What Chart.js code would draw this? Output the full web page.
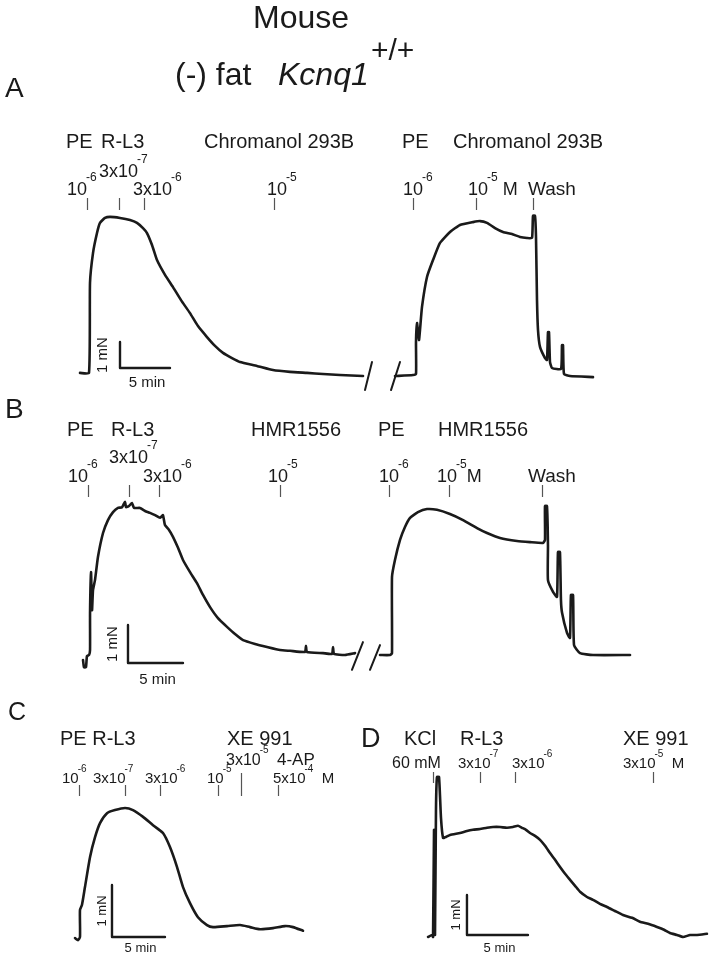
<!DOCTYPE html>
<html>
<head>
<meta charset="utf-8">
<script src="https://cdn.jsdelivr.net/npm/chart.js@4.4.1/dist/chart.umd.min.js"></script>
<style>
  html, body { margin: 0; background: #fff; }
  #wrap { position: relative; width: 709px; height: 958px; }
</style>
</head>
<body>
<div id="wrap"><canvas id="c" width="709" height="958"></canvas></div>
<script>
// ---- traces: time (min) and tension (mN) ----
// A: PE, R-L3, Chromanol 293B
const tA1 = [0, 0.9, 1.0, 1.3, 1.7, 2.0, 2.5, 3.0, 4.0, 5.0, 5.7, 6.3, 6.7, 7.2, 7.7, 8.5, 9.3, 10.1, 11.0, 11.8, 12.7, 13.5, 14.3, 15.2, 16.0, 17.7, 19.3, 21.0, 22.7, 24.3, 26.0, 28.3];
const vA1 = [0.08, 0.08, 3.54, 4.69, 5.46, 5.85, 6.04, 6.08, 6.04, 5.96, 5.85, 5.65, 5.46, 5.0, 4.42, 3.85, 3.38, 2.88, 2.38, 1.88, 1.46, 1.12, 0.85, 0.65, 0.5, 0.35, 0.19, 0.12, 0.08, 0.04, 0, -0.04];
const tA2 = [31.5, 33.3, 33.6, 33.6, 33.7, 33.9, 34.0, 34.2, 34.7, 35.3, 36.0, 37.0, 38.0, 39.3, 40.0, 40.7, 41.5, 42.3, 43.2, 44.0, 44.7, 45.2, 45.3, 45.5, 45.6, 45.7, 45.8, 46.0, 46.5, 46.7, 46.8, 46.9, 47.0, 47.2, 48.1, 48.2, 48.3, 48.4, 49.0, 51.3];
const vA2 = [-0.04, 0, 0.04, 1.27, 2.0, 1.35, 1.73, 2.62, 3.77, 4.42, 5.08, 5.5, 5.77, 5.88, 5.92, 5.85, 5.65, 5.5, 5.42, 5.31, 5.27, 5.27, 6.12, 6.12, 5.31, 2.88, 1.73, 1.08, 0.65, 0.58, 1.65, 1.65, 0.5, 0.27, 0.23, 1.15, 1.15, 0.04, -0.04, -0.08];

// B: PE, R-L3, HMR1556
const tB1 = [0, 0.09, 0.27, 0.36, 0.55, 0.64, 0.64, 0.73, 0.82, 0.91, 1.09, 1.36, 1.82, 2.27, 2.73, 3.18, 3.55, 3.82, 3.91, 4.18, 4.45, 4.64, 5.18, 5.64, 6.09, 6.55, 7.0, 7.27, 7.45, 7.82, 8.18, 8.64, 9.09, 9.73, 10.36, 10.91, 11.55, 12.27, 13.09, 13.82, 14.55, 15.64, 16.73, 17.91, 18.82, 20.18, 20.27, 20.36, 21.82, 22.64, 22.73, 22.82, 23.82, 24.73];
const vB1 = [-0.13, -0.32, -0.32, -0.03, 0, 0.13, 1.1, 2.18, 1.18, 1.71, 1.97, 2.58, 3.21, 3.55, 3.76, 3.87, 3.89, 4.03, 3.89, 3.92, 4.0, 3.87, 3.87, 3.79, 3.74, 3.68, 3.61, 3.68, 3.42, 3.29, 3.11, 2.82, 2.5, 2.18, 1.89, 1.58, 1.26, 0.97, 0.74, 0.55, 0.39, 0.29, 0.21, 0.13, 0.11, 0.08, 0.24, 0.08, 0.05, 0.03, 0.21, 0.03, 0, 0.05];
const tB2 = [27.0, 27.91, 28.09, 28.09, 28.36, 28.82, 29.27, 29.73, 30.45, 31.27, 32.18, 33.36, 34.55, 35.82, 36.73, 37.91, 39.45, 40.64, 41.82, 42.0, 42.0, 42.18, 42.27, 42.27, 42.73, 43.09, 43.18, 43.36, 43.45, 43.55, 44.0, 44.27, 44.36, 44.55, 44.64, 45.18, 46.36, 49.73];
const vB2 = [0, 0, 0.05, 2.05, 2.5, 3.03, 3.37, 3.61, 3.76, 3.84, 3.82, 3.71, 3.55, 3.34, 3.21, 3.08, 3.0, 2.97, 2.95, 3.03, 3.92, 3.92, 2.89, 1.97, 1.66, 1.53, 2.71, 2.71, 1.45, 1.11, 0.58, 0.45, 1.58, 1.58, 0.26, 0.05, 0, 0];

// C: PE, R-L3, XE 991, 4-AP
const tC = [0, 0.28, 0.47, 0.47, 0.66, 0.94, 1.42, 1.89, 2.36, 3.02, 3.77, 4.72, 5.47, 6.42, 7.36, 8.3, 8.96, 9.62, 10.19, 10.85, 11.6, 12.45, 13.02, 14.34, 15.57, 16.51, 17.45, 18.68, 19.81, 20.57, 21.51];
const vC = [-0.02, -0.06, 0, 0.52, 0.62, 0.96, 1.54, 1.92, 2.19, 2.38, 2.44, 2.48, 2.44, 2.31, 2.15, 2.0, 1.73, 1.35, 0.96, 0.65, 0.38, 0.23, 0.19, 0.21, 0.23, 0.19, 0.15, 0.17, 0.21, 0.19, 0.12];

// D: KCl, R-L3, XE 991
const tD = [-0.16, 0.16, 0.25, 0.33, 0.41, 0.49, 0.57, 0.74, 0.9, 1.07, 1.31, 1.64, 2.46, 3.03, 3.52, 4.1, 4.67, 5.16, 5.74, 6.31, 6.8, 7.21, 7.54, 7.87, 8.2, 8.61, 9.02, 9.43, 9.84, 10.25, 10.66, 11.07, 11.48, 11.89, 12.3, 12.87, 13.36, 13.93, 14.51, 15.16, 15.82, 16.56, 17.21, 17.87, 18.61, 19.18, 19.67, 20.25, 20.74, 21.31, 21.89, 22.7];
const vD = [0, 0.05, 0, 2.68, 0.05, 3.18, 4.0, 4.0, 2.98, 2.48, 2.5, 2.55, 2.6, 2.65, 2.68, 2.7, 2.73, 2.75, 2.75, 2.73, 2.75, 2.78, 2.73, 2.68, 2.6, 2.53, 2.43, 2.28, 2.1, 1.93, 1.75, 1.58, 1.43, 1.28, 1.13, 1.0, 0.93, 0.83, 0.75, 0.65, 0.55, 0.48, 0.38, 0.33, 0.25, 0.18, 0.1, 0.05, 0, 0.05, 0.05, 0.08];

// drug addition times (min), one tick each
const addA = [0.7, 3.9, 6.4, 19.4, 33.3, 39.6, 45.3];
const addB = [0.45, 4.18, 6.91, 17.91, 27.82, 33.27, 41.73];
const addC = [0.38, 4.72, 8.02, 13.49, 15.66, 19.15];
const addD = [0.25, 4.1, 6.97, 18.28];

// ---- layout (pixels) ----
const W = 709, H = 958;
const FONT = '"Liberation Sans", Arial, sans-serif';
const INK = '#1a1a1a';
const panels = {
  A: { x0: 80, pxMin: 10, y0: 375, pxMN: 26, adds: addA, tick: [198, 210], bar: [4.0, 0.27], barFont: 15, minGap: 19, mnGap: 17,
       breaks: [[28.5, -0.58, 29.2, 0.5], [31.1, -0.58, 32.0, 0.5]] },
  B: { x0: 83, pxMin: 11, y0: 655, pxMN: 38, adds: addB, tick: [485, 497], bar: [4.09, -0.21], barFont: 15, minGap: 21, mnGap: 15,
       breaks: [[24.45, -0.39, 25.45, 0.34], [26.09, -0.39, 27.0, 0.26]] },
  C: { x0: 75, pxMin: 10.6, y0: 937, pxMN: 52, adds: addC, tick: [785, 796], longTick: 4, bar: [3.49, 0], barFont: 13, minGap: 15, mnGap: 10,
       breaks: [] },
  D: { x0: 430, pxMin: 12.2, y0: 937, pxMN: 40, adds: addD, tick: [772, 783], bar: [3.03, 0.05], barFont: 13, minGap: 17, mnGap: 11,
       breaks: [] },
};

const notes = [
  // A
  { x: 66, y: 148, s: 20, t: 'PE' }, { x: 101, y: 148, s: 20, t: 'R-L3' },
  { x: 204, y: 148, s: 20, t: 'Chromanol 293B' },
  { x: 99, y: 177, s: 18, t: '3x10', e: '-7' },
  { x: 67, y: 195, s: 18, t: '10', e: '-6' }, { x: 133, y: 195, s: 18, t: '3x10', e: '-6' },
  { x: 267, y: 195, s: 18, t: '10', e: '-5' },
  { x: 402, y: 148, s: 20, t: 'PE' }, { x: 453, y: 148, s: 20, t: 'Chromanol 293B' },
  { x: 403, y: 195, s: 18, t: '10', e: '-6' }, { x: 468, y: 195, s: 18, t: '10', e: '-5', tail: ' M' },
  { x: 528, y: 195, s: 19, t: 'Wash' },
  // B
  { x: 67, y: 436, s: 20, t: 'PE' }, { x: 111, y: 436, s: 20, t: 'R-L3' },
  { x: 251, y: 436, s: 20, t: 'HMR1556' },
  { x: 109, y: 463, s: 18, t: '3x10', e: '-7' },
  { x: 68, y: 482, s: 18, t: '10', e: '-6' }, { x: 143, y: 482, s: 18, t: '3x10', e: '-6' },
  { x: 268, y: 482, s: 18, t: '10', e: '-5' },
  { x: 378, y: 436, s: 20, t: 'PE' }, { x: 438, y: 436, s: 20, t: 'HMR1556' },
  { x: 379, y: 482, s: 18, t: '10', e: '-6' }, { x: 437, y: 482, s: 18, t: '10', e: '-5', tail: 'M' },
  { x: 528, y: 482, s: 19, t: 'Wash' },
  // C
  { x: 60, y: 745, s: 20, t: 'PE R-L3' }, { x: 227, y: 745, s: 20, t: 'XE 991' },
  { x: 226, y: 765, s: 16, t: '3x10', e: '-5' }, { x: 277, y: 765, s: 17, t: '4-AP' },
  { x: 62, y: 783, s: 15, t: '10', e: '-6' }, { x: 93, y: 783, s: 15, t: '3x10', e: '-7' },
  { x: 145, y: 783, s: 15, t: '3x10', e: '-6' }, { x: 207, y: 783, s: 15, t: '10', e: '-5' },
  { x: 273, y: 783, s: 15, t: '5x10', e: '-4', tail: '  M' },
  // D
  { x: 404, y: 745, s: 20, t: 'KCl' }, { x: 460, y: 745, s: 20, t: 'R-L3' },
  { x: 623, y: 745, s: 20, t: 'XE 991' },
  { x: 392, y: 768, s: 16, t: '60 mM' },
  { x: 458, y: 768, s: 15, t: '3x10', e: '-7' }, { x: 512, y: 768, s: 15, t: '3x10', e: '-6' },
  { x: 623, y: 768, s: 15, t: '3x10', e: '-5', tail: '  M' },
  // panel letters
  { x: 5, y: 97, s: 28, t: 'A' }, { x: 5, y: 418, s: 28, t: 'B' },
  { x: 8, y: 720, s: 25, t: 'C' }, { x: 361, y: 747, s: 27, t: 'D' },
];

const zip = (ts, vs) => ts.map((t, i) => ({ x: t, y: vs[i] }));

const scales = {};
for (const p in panels) {
  const g = panels[p];
  scales['x' + p] = { type: 'linear', display: false, min: -g.x0 / g.pxMin, max: (W - g.x0) / g.pxMin };
  scales['y' + p] = { type: 'linear', display: false, min: -(H - g.y0) / g.pxMN, max: g.y0 / g.pxMN };
}

const datasets = [];
function trace(p, ts, vs, width, smooth) {
  datasets.push({
    data: zip(ts, vs), xAxisID: 'x' + p, yAxisID: 'y' + p,
    borderColor: INK, borderWidth: width || 2.6, pointRadius: 0, tension: smooth || 0,
    borderJoinStyle: 'round', borderCapStyle: 'round', fill: false,
  });
}
trace('A', tA1, vA1, 2.6, 0.15); trace('A', tA2, vA2, 2.6, 0.15);
trace('B', tB1, vB1, 2.6, 0.15); trace('B', tB2, vB2, 2.6, 0.15);
trace('C', tC, vC, 2.6, 0.2);
trace('D', tD, vD, 2.6, 0.15);
for (const p in panels) {
  const g = panels[p];
  const [bt, bv] = g.bar;
  trace(p, [bt, bt, bt + 5], [bv + 1, bv, bv], 2.4); // 1 mN / 5 min scale bar
  for (const b of g.breaks) trace(p, [b[0], b[2]], [b[1], b[3]], 2);
}

function drawNote(ctx, n) {
  ctx.font = n.s + 'px ' + FONT;
  ctx.fillText(n.t, n.x, n.y);
  let w = ctx.measureText(n.t).width;
  if (n.e) {
    const es = Math.round(n.s * 0.64);
    ctx.font = es + 'px ' + FONT;
    ctx.fillText(n.e, n.x + w - 1, n.y - n.s * 0.76);
    w += ctx.measureText(n.e).width - 1;
  }
  if (n.tail) {
    ctx.font = n.s + 'px ' + FONT;
    ctx.fillText(n.tail, n.x + w, n.y);
  }
}

const annotate = {
  id: 'annotate',
  afterDatasetsDraw(chart) {
    const ctx = chart.ctx;
    ctx.save();
    ctx.textBaseline = 'alphabetic';
    ctx.fillStyle = INK;

    // title
    ctx.font = '32px ' + FONT;
    ctx.fillText('Mouse', 253, 28);
    ctx.fillText('(-) fat', 175, 85);
    ctx.font = 'italic 32px ' + FONT;
    ctx.fillText('Kcnq1', 278, 85);
    ctx.font = '30px ' + FONT;
    ctx.fillText('+/+', 371, 60);

    for (const n of notes) drawNote(ctx, n);

    for (const p in panels) {
      const g = panels[p];
      const xs = chart.scales['x' + p], ys = chart.scales['y' + p];
      // addition ticks
      ctx.strokeStyle = '#555';
      ctx.lineWidth = 1.2;
      g.adds.forEach((t, i) => {
        const x = Math.round(xs.getPixelForValue(t)) + 0.5;
        const top = (g.longTick === i) ? g.tick[0] - 12 : g.tick[0];
        ctx.beginPath();
        ctx.moveTo(x, top);
        ctx.lineTo(x, g.tick[1]);
        ctx.stroke();
      });
      // scale bar labels
      const [bt, bv] = g.bar;
      const bx = xs.getPixelForValue(bt), by = ys.getPixelForValue(bv);
      const mx = xs.getPixelForValue(bt + 2.5), my = ys.getPixelForValue(bv + 0.5);
      ctx.font = g.barFont + 'px ' + FONT;
      ctx.textAlign = 'center';
      ctx.fillText('5 min', mx + 2, by + g.minGap);
      ctx.save();
      ctx.translate(bx - g.mnGap, my);
      ctx.rotate(-Math.PI / 2);
      ctx.textBaseline = 'middle';
      ctx.fillText('1 mN', 0, 0);
      ctx.restore();
      ctx.textAlign = 'left';
    }
    ctx.restore();
  },
};

new Chart(document.getElementById('c'), {
  type: 'line',
  data: { datasets },
  options: {
    responsive: false,
    animation: false,
    devicePixelRatio: 1,
    events: [],
    layout: { padding: 0 },
    plugins: { legend: { display: false }, tooltip: { enabled: false } },
    scales,
  },
  plugins: [annotate],
});
</script>
</body>
</html>
